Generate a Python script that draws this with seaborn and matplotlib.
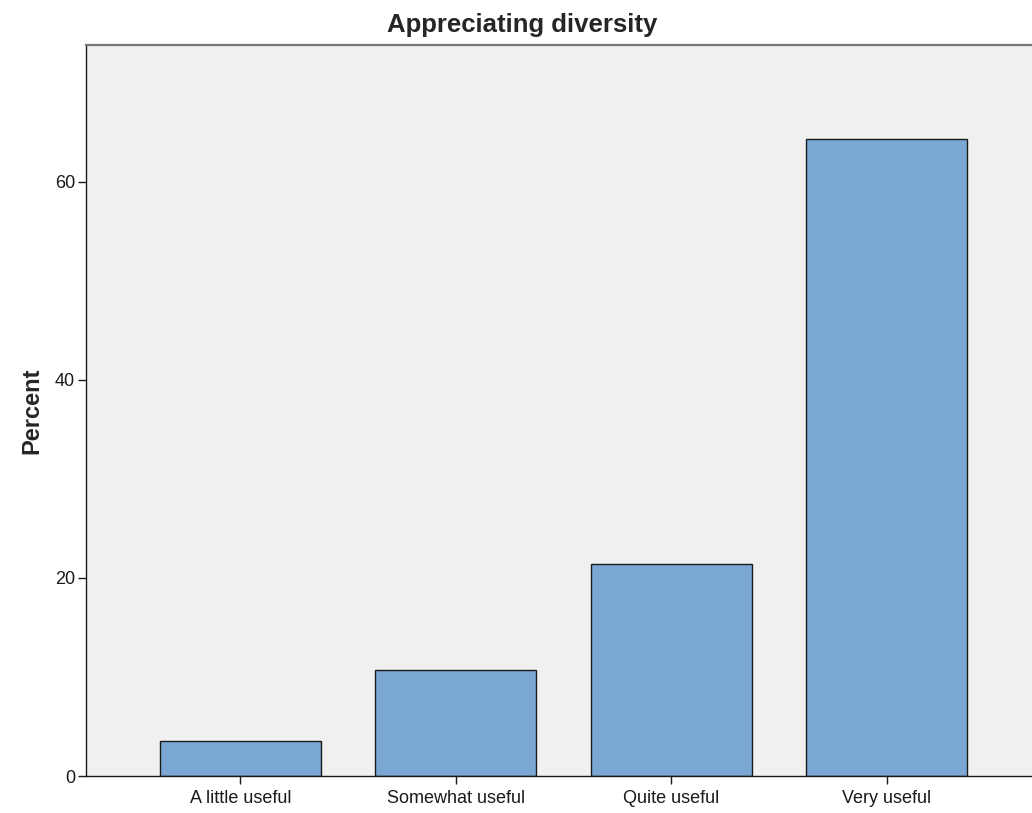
import matplotlib
matplotlib.use("Agg")
import matplotlib.pyplot as plt
import seaborn as sns
import pandas as pd

categories = ["A little useful", "Somewhat useful", "Quite useful", "Very useful"]
percent = [3.57, 10.71, 21.43, 64.29]

sns.set_style("white")
plt.rcParams['font.family'] = ['Liberation Sans', 'DejaVu Sans']

fig = plt.figure(figsize=(10.32, 8.13), dpi=100)
ax = fig.add_axes([86/1032, 1-776/813, (1041-86)/1032, (776-45)/813])
ax.set_facecolor("#F0F0F0")

df = pd.DataFrame({"cat": categories, "pct": percent})
sns.barplot(data=df, x="cat", y="pct", ax=ax, color="#7BA7D4", saturation=1,
            width=0.747, edgecolor="#1a1a1a", linewidth=1.0)

ax.set_xlim(-0.717, 3.717)
ax.set_ylim(0, 73.8)
ax.set_yticks([0, 20, 40, 60])
ax.set_xlabel("")
ax.set_ylabel("Percent", fontsize=17, fontweight="bold", labelpad=8)
ax.set_title("Appreciating diversity", fontsize=18.5, fontweight="bold", pad=9,
             x=(522-86)/955)

for s in ["left", "bottom"]:
    ax.spines[s].set_color("#1a1a1a")
    ax.spines[s].set_linewidth(1.0)
ax.spines["top"].set_color("#777777")
ax.spines["top"].set_linewidth(1.6)
ax.spines["right"].set_visible(False)

ax.tick_params(axis="both", direction="out", length=6, width=1, color="#1a1a1a",
               labelsize=13, labelcolor="#1a1a1a", left=True, bottom=True)
ax.tick_params(axis="y", pad=2)
ax.tick_params(axis="x", pad=4)

fig.savefig("out.png", dpi=100)
